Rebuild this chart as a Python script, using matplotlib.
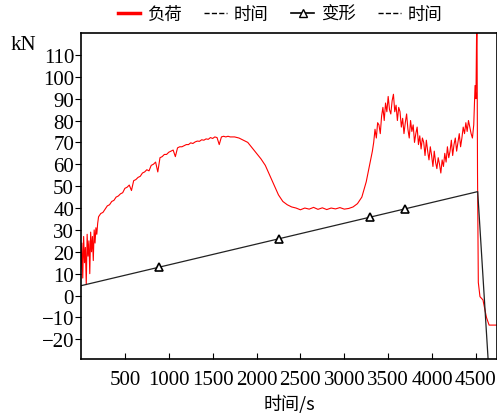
import numpy as np
import matplotlib.pyplot as plt
from matplotlib.lines import Line2D

plt.rcParams['font.family'] = ['Liberation Serif', 'Noto Sans CJK SC']

# Load curve (kN), by segments
t_start = [0, 10, 20, 30, 40, 50, 60, 70, 80, 90, 100, 110, 120, 130, 140, 150, 160, 170, 180, 190]
load_start = [12, 24, 8, 27, 15, 22, 5, 28, 18, 25, 10, 29, 20, 27, 16, 30, 24, 31, 28, 33]

t_rise = [200, 225, 250, 275, 300, 325, 350, 375, 400, 425, 450, 475, 500, 525, 550, 575,
          600, 625, 650, 675, 700, 725, 750, 775, 800, 825, 850, 875, 900, 925, 950, 975,
          1000, 1025, 1050, 1075, 1100, 1125, 1150, 1175, 1200, 1225, 1250, 1275, 1300,
          1325, 1350, 1375, 1400, 1425, 1450, 1475, 1500, 1525, 1550, 1575, 1600, 1625,
          1650, 1675, 1700]
load_rise = [36, 37.5, 38, 39.5, 41, 41.5, 43, 43.5, 45, 45.5, 46.5, 47, 49, 49.5, 50.5, 48,
             52.5, 53, 54, 54.5, 56, 56.5, 57.5, 57, 59.5, 60, 61, 56.5, 63, 63.5, 64.5, 64.5,
             65.5, 66, 66.5, 63.5, 67.5, 68, 68, 68.5, 69, 69, 69.8, 69.5, 70.2,
             70.6, 70.5, 71.2, 71, 71.6, 71.4, 72.2, 71.8, 72.5, 72.2, 69, 72.5, 72.8,
             72.5, 72.8, 72.5]

t_valley = [1750, 1800, 1850, 1900, 1950, 2000, 2050, 2100, 2150, 2200, 2250, 2300, 2350,
            2400, 2450, 2500, 2550, 2600, 2650, 2700, 2750, 2800, 2850, 2900, 2950, 3000,
            3050, 3100, 3150, 3200, 3250, 3300]
load_valley = [72.5, 72, 71, 70, 67.5, 65, 62.5, 59.5, 55, 50.5, 46, 43, 41.5,
               40.5, 40, 39.2, 40, 39.5, 40.3, 39.4, 40.1, 39.3, 40, 39.6, 40.2, 39.5,
               39.8, 40.5, 42, 45, 52, 62]

t_peak = [3320, 3335, 3350, 3365, 3380, 3395, 3410, 3425, 3440, 3455, 3470, 3485, 3500,
          3515, 3530, 3545, 3560, 3575, 3590, 3605, 3620, 3635, 3650, 3665, 3680, 3695,
          3710, 3725, 3740, 3755, 3770, 3785, 3800, 3815, 3830, 3845, 3860, 3875, 3890,
          3905, 3920, 3935, 3950, 3965, 3980, 3995, 4010, 4025, 4040, 4055, 4070, 4085,
          4100, 4115, 4130, 4145, 4160, 4175, 4190, 4205, 4220, 4235, 4250, 4265, 4280,
          4295, 4310, 4325, 4340, 4355, 4370, 4385, 4400, 4415, 4430, 4445, 4460, 4475,
          4490, 4500, 4507, 4512, 4518]
load_peak = [66, 70, 76, 72, 79, 78, 74, 82, 86, 80, 88, 84, 91,
             85, 83, 89, 92, 84, 87, 80, 86, 84, 77, 81, 74, 79,
             83, 76, 72, 80, 75, 78, 70, 74, 77, 69, 73, 67, 72,
             70, 64, 71, 66, 62, 68, 64, 59, 66, 61, 58, 63, 60,
             56, 62, 59, 65, 61, 68, 63, 66, 71, 64, 69, 72, 66,
             70, 74, 68, 72, 77, 74, 79, 75, 80, 77, 74, 72, 78,
             96, 90, 118, 125, 56]

t_unload = [4527, 4546, 4580, 4600, 4620, 4650, 4700, 4750]
load_unload = [6, -0.5, -2, -6, -10, -13.5, -13.5, -13.5]

# Deformation line and its markers
t_deform = [0, 4520, 4640]
deform = [4.5, 47.5, -30]
t_mark = [892, 2254, 3295, 3696]
deform_mark = [13.0, 25.9, 35.8, 39.7]

t_load = t_start + t_rise + t_valley + t_peak + t_unload
load = load_start + load_rise + load_valley + load_peak + load_unload

fig = plt.figure(figsize=(4.97, 4.14), dpi=100)
ax = fig.add_axes([81 / 497, 54 / 414, 416 / 497, 326 / 414])

ax.plot(t_load, load, color='red', lw=0.8)
ax.plot(t_deform, deform, color='#222222', lw=0.9)
ax.plot(t_mark, deform_mark, ls='none', marker='^', ms=6, mfc='white', mec='black', mew=1.2)

ax.set_xlim(0, 4740)
ax.set_ylim(-29, 120)
ax.set_xticks([500, 1000, 1500, 2000, 2500, 3000, 3500, 4000, 4500])
ax.set_yticks(np.arange(-20, 111, 10))
ax.tick_params(axis='x', direction='in', length=4, labelsize=15, pad=8)
ax.tick_params(axis='y', direction='out', length=4, labelsize=15, pad=1)
for s in ax.spines.values():
    s.set_linewidth(1.2)

ax.set_xlabel('时间/s', fontsize=13, family=['Noto Sans CJK SC'], labelpad=3)
fig.text(11 / 497, 1 - 45 / 414, 'kN', fontsize=15, va='center', ha='left')

handles = [
    Line2D([], [], color='red', lw=2.5),
    Line2D([], [], color='black', lw=1, ls='--'),
    Line2D([], [], color='black', lw=1.2, marker='^', ms=6, mfc='white', mec='black'),
    Line2D([], [], color='black', lw=1, ls='--'),
]
labels = ['负荷', '时间', '变形', '时间']
fig.legend(handles, labels, ncol=4, frameon=False, loc='center',
           bbox_to_anchor=(280 / 497, 1 - 15 / 414), handlelength=1.3,
           handletextpad=0.4, columnspacing=1.3,
           prop={'family': 'Noto Sans CJK SC', 'size': 12.5})

fig.savefig('out.png', dpi=100)
